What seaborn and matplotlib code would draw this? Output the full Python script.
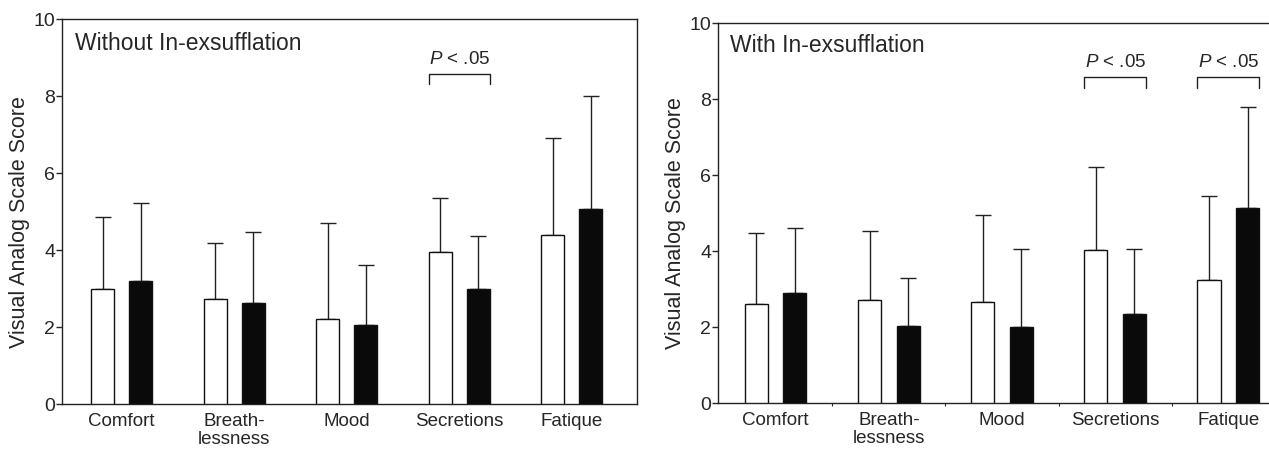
import matplotlib
matplotlib.use("Agg")
import matplotlib.pyplot as plt
import numpy as np
import pandas as pd
import seaborn as sns

# Data (mean and SD, one-sided error bars)
categories = ["Comfort", "Breath-\nlessness", "Mood", "Secretions", "Fatique"]
groups = ["open", "filled"]

without_open_mean = [3.0, 2.72, 2.2, 3.95, 4.4]
without_open_sd = [1.85, 1.45, 2.5, 1.4, 2.5]
without_filled_mean = [3.2, 2.62, 2.05, 3.0, 5.07]
without_filled_sd = [2.03, 1.85, 1.55, 1.36, 2.93]

with_open_mean = [2.6, 2.7, 2.66, 4.02, 3.24]
with_open_sd = [1.87, 1.82, 2.28, 2.18, 2.2]
with_filled_mean = [2.9, 2.02, 2.0, 2.35, 5.13]
with_filled_sd = [1.7, 1.26, 2.05, 1.7, 2.65]

panel_titles = ["Without In-exsufflation", "With In-exsufflation"]
significant = [["Secretions"], ["Secretions", "Fatique"]]

sns.set_style("ticks")
plt.rcParams["font.family"] = ["Liberation Sans", "DejaVu Sans"]
plt.rcParams["mathtext.fontset"] = "custom"
plt.rcParams["mathtext.it"] = "Liberation Sans:italic"
plt.rcParams["mathtext.rm"] = "Liberation Sans"


def make_df(open_mean, open_sd, filled_mean, filled_sd):
    return pd.DataFrame({
        "category": categories * 2,
        "group": [groups[0]] * 5 + [groups[1]] * 5,
        "score": open_mean + filled_mean,
        "sd": open_sd + filled_sd,
    })


def draw_panel(ax, df, title, sig, xlim, title_y):
    sns.barplot(
        data=df, x="category", y="score", hue="group", order=categories,
        hue_order=groups, palette={"open": "white", "filled": "#0a0a0a"},
        width=0.68, gap=0.4, errorbar=None, edgecolor="#111111",
        linewidth=1.0, legend=False, ax=ax, zorder=3,
    )
    bars = ax.patches
    xs = np.array([p.get_x() + p.get_width() / 2 for p in bars])
    # error bars (upper side only)
    ax.errorbar(
        xs, df["score"], yerr=[np.zeros(len(df)), df["sd"]], fmt="none",
        ecolor="#222222", elinewidth=1.0, capsize=5.5, capthick=1.0, zorder=2,
    )

    # significance brackets
    for cat in sig:
        i = categories.index(cat)
        left = bars[i].get_x()
        right = bars[i + 5].get_x() + bars[i + 5].get_width()
        ax.plot([left, left, right, right], [8.3, 8.58, 8.58, 8.3],
                color="#222222", lw=1.0)
        ax.text((left + right) / 2, 8.76, r"$\it{P}$ < .05", ha="center",
                va="bottom", fontsize=13.5)

    ax.text(0.022, title_y, title, transform=ax.transAxes, ha="left",
            va="top", fontsize=16.5)

    ax.set_ylim(0, 10)
    ax.set_yticks([0, 2, 4, 6, 8, 10])
    ax.set_xlim(*xlim)
    ax.set_xlabel("")
    ax.set_ylabel("Visual Analog Scale Score", fontsize=15.5)
    ax.tick_params(axis="y", labelsize=14, length=4, width=1, pad=1)
    ax.tick_params(axis="x", labelsize=13.5, length=0, pad=6)
    for lab in ax.get_xticklabels():
        lab.set_linespacing(1.05)
    for side in ["left", "bottom", "top", "right"]:
        ax.spines[side].set_visible(True)
        ax.spines[side].set_linewidth(1.0)
        ax.spines[side].set_color("#222222")


fig = plt.figure(figsize=(12.69, 4.52), dpi=100)
ax1 = fig.add_axes([62 / 1269, 1 - 405 / 452, 575 / 1269, 385 / 452])
ax2 = fig.add_axes([718 / 1269, 1 - 404 / 452, 551 / 1269, 380 / 452])

df_without = make_df(without_open_mean, without_open_sd,
                     without_filled_mean, without_filled_sd)
df_with = make_df(with_open_mean, with_open_sd,
                  with_filled_mean, with_filled_sd)

draw_panel(ax1, df_without, panel_titles[0], significant[0], (-0.53, 4.58), 0.97)
draw_panel(ax2, df_with, panel_titles[1], significant[1], (-0.51, 4.36), 0.975)
ax1.yaxis.set_label_coords(-0.056, 0.475)
ax2.yaxis.set_label_coords(-0.058, 0.475)

# right panel is cut at the image edge, with small ticks between groups
ax2.spines["right"].set_visible(False)
ax2.set_xticks([0.5, 1.5, 2.5, 3.5], minor=True)
ax2.tick_params(axis="x", which="minor", length=2, width=0.8)

fig.savefig("out.png", dpi=100)
